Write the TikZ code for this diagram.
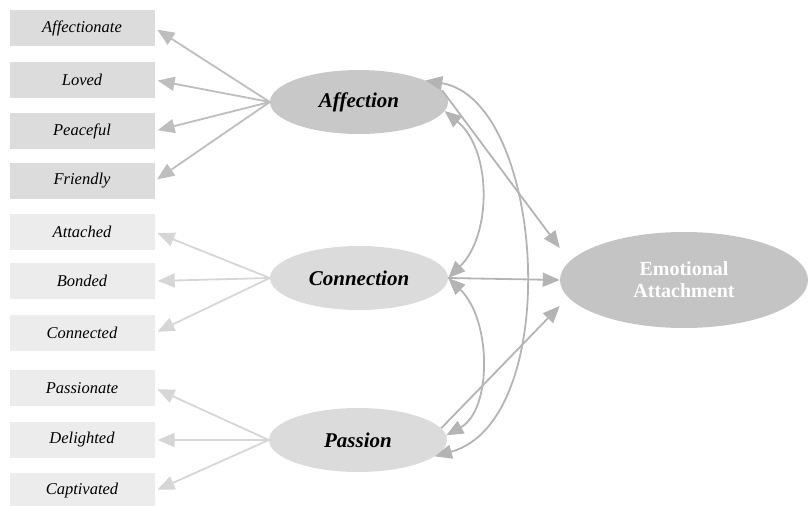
\documentclass[tikz,border=0pt]{standalone}
\usepackage{fontspec}
\setmainfont{Liberation Serif}
\usetikzlibrary{arrows.meta, positioning, shapes.geometric}
\definecolor{boxdark}{HTML}{DCDCDC}
\definecolor{boxlight}{HTML}{ECECEC}
\definecolor{ovdark}{HTML}{C8C8C8}
\definecolor{ovlight}{HTML}{DBDBDB}
\definecolor{ovemo}{HTML}{C4C4C4}
\definecolor{linedark}{HTML}{BEBEBE}
\definecolor{linelight}{HTML}{D6D6D6}
\definecolor{linecov}{HTML}{B4B4B4}

\begin{document}
\begin{tikzpicture}[x=1pt, y=-1pt,
    item/.style={rectangle, minimum width=145pt, minimum height=36pt, inner sep=0pt,
        font=\fontsize{16.5}{18}\selectfont\itshape},
    factor/.style={ellipse, minimum width=178pt, minimum height=64pt, inner sep=0pt,
        font=\fontsize{21}{23}\selectfont\bfseries\itshape},
    tip/.style={-{Triangle[length=17pt, width=14pt]}},
    load/.style={tip, line width=1.8pt, shorten >=3pt},
    cov/.style={{Triangle[length=17pt, width=14pt]}-{Triangle[length=17pt, width=14pt]}, line width=1.8pt}]
    \useasboundingbox (0,0) rectangle (809,506);
    % indicator boxes
    \node[item, fill=boxdark] (affectionate) at (82,28) {Affectionate};
    \node[item, fill=boxdark] (loved) at (82,80) {Loved};
    \node[item, fill=boxdark] (peaceful) at (82,131) {Peaceful};
    \node[item, fill=boxdark] (friendly) at (82,181) {Friendly};
    \node[item, fill=boxlight] (attached) at (82,232) {Attached};
    \node[item, fill=boxlight] (bonded) at (82,281) {Bonded};
    \node[item, fill=boxlight] (connected) at (82,333) {Connected};
    \node[item, fill=boxlight] (passionate) at (82,388) {Passionate};
    \node[item, fill=boxlight] (delighted) at (82,440) {Delighted};
    \node[item, fill=boxlight] (captivated) at (82,491) {Captivated};
    % latent factors
    \node[factor, fill=ovdark] (affection) at (359,102) {Affection};
    \node[factor, fill=ovlight] (connection) at (359,278) {Connection};
    \node[factor, fill=ovlight] (passion) at (358,440) {Passion};
    \node[ellipse, fill=ovemo, minimum width=248pt, minimum height=96pt, inner sep=0pt,
        align=center, text=white, font=\fontsize{20}{22}\selectfont\bfseries]
        (emotional) at (684,280) {Emotional\\Attachment};
    % loadings
    \foreach \n in {affectionate, loved, peaceful, friendly}
        \draw[load, linedark] (affection.west) -- (\n.east);
    \foreach \n in {attached, bonded, connected}
        \draw[load, linelight] (connection.west) -- (\n.east);
    \foreach \n in {passionate, delighted, captivated}
        \draw[load, linelight] (passion.west) -- (\n.east);
    % paths to emotional attachment
    \draw[tip, line width=1.8pt, linecov] (affection.8) -- ([yshift=32pt]emotional.west);
    \draw[tip, line width=1.8pt, linecov] (connection.east) -- (emotional.west);
    \draw[tip, line width=1.8pt, linecov] (passion.8) -- ([yshift=-26pt]emotional.west);
    % covariances
    \draw[cov, linecov] (affection.-6) .. controls (492,150) and (492,235) .. (connection.east);
    \draw[cov, linecov] (affection.18) .. controls (545,100) and (565,420) .. (passion.-12);
    \draw[cov, linecov] (connection.east) .. controls (492,320) and (492,410) .. (passion.3);
\end{tikzpicture}
\end{document}
